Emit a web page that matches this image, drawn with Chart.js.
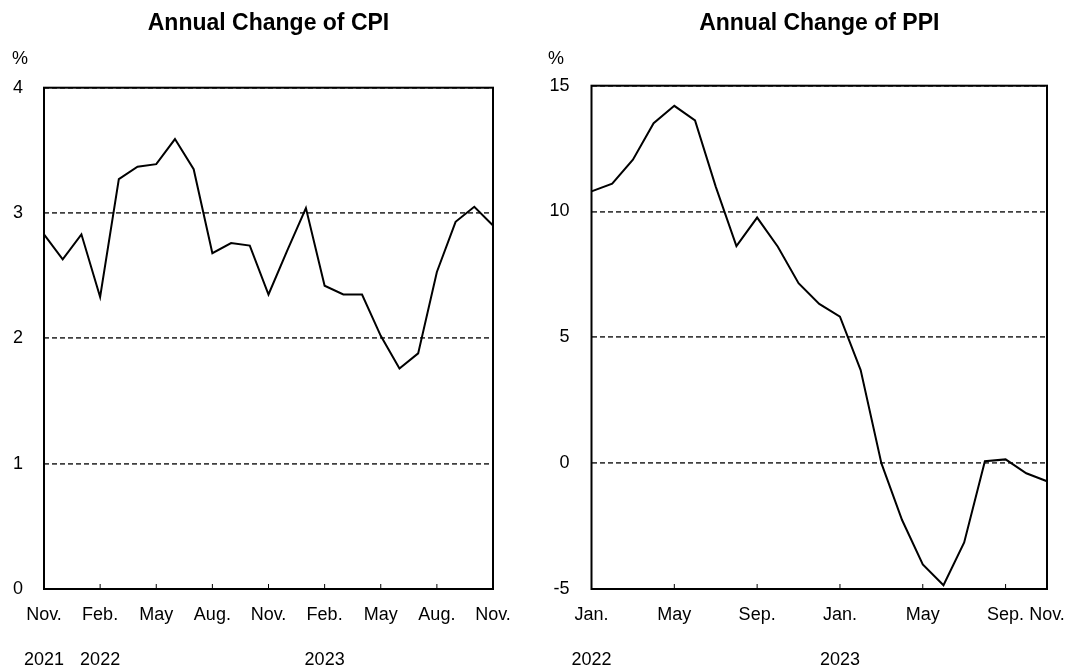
<!DOCTYPE html>
<html>
<head>
<meta charset="utf-8">
<script src="https://cdn.jsdelivr.net/npm/chart.js@4"></script>
<style>
  html, body { margin: 0; padding: 0; background: #fff; }
  .panel { position: absolute; top: 0; height: 668px; }
  #left-panel { left: 0; width: 538px; }
  #right-panel { left: 538px; width: 539px; }
</style>
</head>
<body>
<div class="panel" id="left-panel"><canvas id="cpi-chart"></canvas></div>
<div class="panel" id="right-panel"><canvas id="ppi-chart"></canvas></div>
<script>
const cpiDates = ["2021-11", "2021-12", "2022-01", "2022-02", "2022-03", "2022-04", "2022-05", "2022-06", "2022-07", "2022-08", "2022-09", "2022-10", "2022-11", "2022-12", "2023-01", "2023-02", "2023-03", "2023-04", "2023-05", "2023-06", "2023-07", "2023-08", "2023-09", "2023-10", "2023-11"];
const cpiValues = [2.83, 2.63, 2.83, 2.33, 3.27, 3.37, 3.39, 3.59, 3.35, 2.68, 2.76, 2.74, 2.35, 2.70, 3.04, 2.42, 2.35, 2.35, 2.02, 1.76, 1.88, 2.53, 2.93, 3.05, 2.90];
const cpiTicks = ["Nov.", "", "", "Feb.", "", "", "May", "", "", "Aug.", "", "", "Nov.", "", "", "Feb.", "", "", "May", "", "", "Aug.", "", "", "Nov."];
const cpiYears = ["2021", "", "", "2022", "", "", "", "", "", "", "", "", "", "", "", "2023", "", "", "", "", "", "", "", "", ""];

const ppiDates = ["2022-01", "2022-02", "2022-03", "2022-04", "2022-05", "2022-06", "2022-07", "2022-08", "2022-09", "2022-10", "2022-11", "2022-12", "2023-01", "2023-02", "2023-03", "2023-04", "2023-05", "2023-06", "2023-07", "2023-08", "2023-09", "2023-10", "2023-11"];
const ppiValues = [10.80, 11.11, 12.06, 13.51, 14.20, 13.62, 10.99, 8.63, 9.76, 8.60, 7.15, 6.33, 5.82, 3.70, 0.00, -2.26, -4.02, -4.85, -3.15, 0.08, 0.15, -0.40, -0.72];
const ppiTicks = ["Jan.", "", "", "", "May", "", "", "", "Sep.", "", "", "", "Jan.", "", "", "", "May", "", "", "", "Sep.", "", "Nov."];
const ppiYears = ["2022", "", "", "", "", "", "", "", "", "", "", "", "2023", "", "", "", "", "", "", "", "", "", ""];

Chart.defaults.font.family = "'Liberation Sans', Arial, sans-serif";
Chart.defaults.color = "#000";

// frame round the plot area plus short inward tick marks on the x axis
const framePlugin = {
  id: "frame",
  afterDraw(chart) {
    const ctx = chart.ctx;
    const a = chart.chartArea;
    const x = chart.scales.x;
    ctx.save();
    ctx.strokeStyle = "#000";
    ctx.lineWidth = 1;
    x.ticks.forEach(function (t, i) {
      if (t.label == null) return;
      const px = x.getPixelForTick(i);
      ctx.beginPath();
      ctx.moveTo(px, a.bottom);
      ctx.lineTo(px, a.bottom - 5);
      ctx.stroke();
    });
    ctx.lineWidth = 2;
    ctx.strokeRect(a.left, a.top, a.right - a.left, a.bottom - a.top);
    ctx.restore();
  },
};

function addChart(canvasId, cfg) {
  return new Chart(document.getElementById(canvasId), {
    type: "line",
    data: {
      labels: cfg.labels,
      datasets: [
        {
          data: cfg.values,
          borderColor: "#000",
          borderWidth: 2,
          pointRadius: 0,
          tension: 0,
          fill: false,
        },
      ],
    },
    options: {
      responsive: true,
      maintainAspectRatio: false,
      animation: false,
      layout: {
        padding: { left: cfg.padLeft, right: cfg.padRight, top: 0, bottom: 0 },
      },
      plugins: {
        legend: { display: false },
        tooltip: { enabled: false },
        title: {
          display: true,
          text: cfg.title,
          fullSize: false,
          font: { size: 23, weight: "bold" },
          padding: { top: 10, bottom: 0 },
        },
        subtitle: {
          display: true,
          text: "%",
          align: "start",
          font: { size: 18 },
          padding: { top: 11, bottom: cfg.subBottom },
        },
      },
      scales: {
        x: {
          grid: { display: false, drawTicks: false },
          border: { display: false },
          ticks: {
            autoSkip: false,
            maxRotation: 0,
            padding: 4,
            font: { size: 18, lineHeight: 2.5 },
            callback: function (value, index) {
              if (cfg.ticks[index] === "") return null;
              return [cfg.ticks[index], cfg.years[index]];
            },
          },
          afterFit: function (scale) {
            scale.height = 79;
          },
        },
        y: {
          min: cfg.min,
          max: cfg.max,
          grid: { color: "#404040", lineWidth: 1.8, drawTicks: false },
          border: { display: false, dash: [5, 3] },
          ticks: {
            stepSize: cfg.step,
            padding: cfg.tickPad,
            font: { size: 18 },
          },
          afterFit: function (scale) {
            scale.width = cfg.axisWidth;
          },
        },
      },
    },
    plugins: [framePlugin],
  });
}

addChart("cpi-chart", {
  title: "Annual Change of CPI",
  labels: cpiDates,
  values: cpiValues,
  ticks: cpiTicks,
  years: cpiYears,
  min: 0,
  max: 4,
  step: 1,
  padLeft: 12,
  padRight: 45,
  axisWidth: 32,
  tickPad: 21,
  subBottom: 17.5,
});

addChart("ppi-chart", {
  title: "Annual Change of PPI",
  labels: ppiDates,
  values: ppiValues,
  ticks: ppiTicks,
  years: ppiYears,
  min: -5,
  max: 15,
  step: 5,
  padLeft: 10,
  padRight: 30,
  axisWidth: 43.5,
  tickPad: 22,
  subBottom: 15.5,
});
</script>
</body>
</html>
